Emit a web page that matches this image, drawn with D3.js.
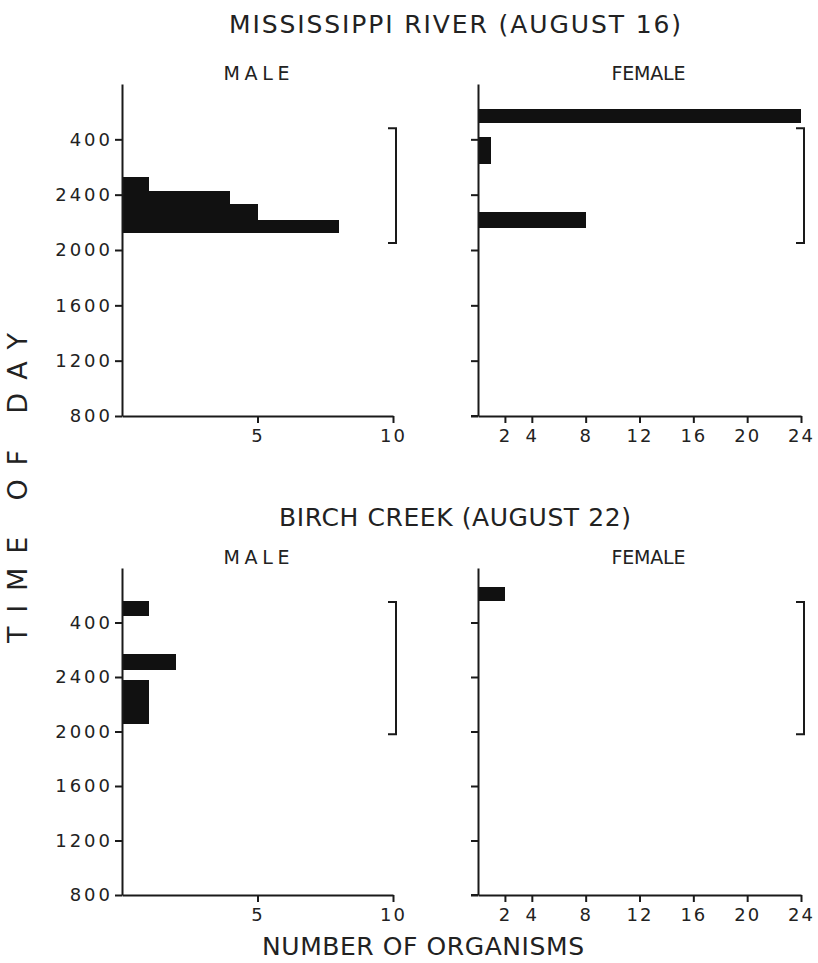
<!DOCTYPE html>
<html>
<head>
<meta charset="utf-8">
<script src="https://cdn.jsdelivr.net/npm/d3@7"></script>
<style>
  body { margin: 0; background: #fff; }
  svg text { font-family: "DejaVu Sans", sans-serif; fill: #222; }
</style>
</head>
<body>
<div id="chart"></div>
<script>
// time axis: hours after 0800 (0 = 800, 16 = 2400, 20 = 400 next morning)
const yTickHours = [0, 4, 8, 12, 16, 20];
const yTickLabels = ["800", "1200", "1600", "2000", "2400", "400"];
const maleTicks = [5, 10];
const femaleTicks = [2, 4, 8, 12, 16, 20, 24];

// Mississippi River (August 16)
const missMaleStart = [13.2, 14.2, 15.3, 16.3];
const missMaleEnd = [14.2, 15.3, 16.3, 17.3];
const missMaleCount = [8, 5, 4, 1];
const missFemaleStart = [21.2, 18.2, 13.6];
const missFemaleEnd = [22.2, 20.2, 14.75];
const missFemaleCount = [24, 1, 8];
const missNight = [12.5, 20.8];

// Birch Creek (August 22)
const birchMaleStart = [20.5, 16.5, 12.55];
const birchMaleEnd = [21.6, 17.7, 15.8];
const birchMaleCount = [1, 2, 1];
const birchFemaleStart = [21.6];
const birchFemaleEnd = [22.6];
const birchFemaleCount = [2];
const birchNight = [11.8, 21.5];

const svg = d3.select("#chart")
  .append("svg")
    .attr("width", 818)
    .attr("height", 963);

const ink = "#1a1a1a";

// small helper for the lettering
function label(x, y, txt, size, len, rotate) {
  const t = svg.append("text")
    .attr("x", x)
    .attr("y", y)
    .attr("text-anchor", "middle")
    .style("font-size", size + "px")
    .text(txt);
  if (len) t.attr("textLength", len).attr("lengthAdjust", "spacing");
  if (rotate) t.attr("transform", `rotate(${rotate},${x},${y})`);
  return t;
}

function panel(opts) {
  const y = d3.scaleLinear().domain([0, 24]).range(opts.yRange);
  const x = d3.scaleLinear().domain([0, opts.xMax]).range(opts.xRange);
  const g = svg.append("g");

  // bars
  g.selectAll("rect")
    .data(opts.count)
    .join("rect")
      .attr("x", x(0))
      .attr("y", (d, i) => y(opts.end[i]))
      .attr("width", d => x(d) - x(0))
      .attr("height", (d, i) => y(opts.start[i]) - y(opts.end[i]))
      .attr("fill", "#111")
      .attr("shape-rendering", "crispEdges");

  // y axis
  const ya = g.append("g")
    .attr("transform", `translate(${x(0)},0)`)
    .call(d3.axisLeft(y)
      .tickValues(yTickHours)
      .tickFormat((d, i) => opts.showY ? yTickLabels[i] : "")
      .tickSize(7)
      .tickSizeOuter(0)
      .tickPadding(2));
  ya.selectAll("text")
    .style("font-size", "18px")
    .style("letter-spacing", "3px");

  // x axis
  const xa = g.append("g")
    .attr("transform", `translate(0,${y(0)})`)
    .call(d3.axisBottom(x)
      .tickValues(opts.xTicks)
      .tickSize(7)
      .tickSizeOuter(0)
      .tickPadding(6));
  xa.selectAll("text")
    .style("font-size", "18px")
    .style("letter-spacing", "2px");
  if (!opts.showY) {
    g.append("line")
      .attr("x1", x(0) - 7).attr("x2", x(0))
      .attr("y1", y(0)).attr("y2", y(0))
      .attr("stroke", ink).attr("stroke-width", 2);
  }

  g.selectAll(".domain, .tick line")
    .attr("stroke", ink)
    .attr("stroke-width", 2);

  // night bracket on the right
  const bx = x(opts.xMax) + 3;
  g.append("path")
    .attr("d", `M${bx - 8},${y(opts.night[1])}H${bx}V${y(opts.night[0])}H${bx - 8}`)
    .attr("fill", "none")
    .attr("stroke", ink)
    .attr("stroke-width", 2);

  label((opts.xRange[0] + opts.xRange[1]) / 2 + opts.headShift, opts.yRange[1] - 4, opts.head, 19, opts.headLen);
}

const topY = [416, 84], botY = [895, 568];
const maleX = [122, 393], femaleX = [478, 801];

label(455, 33, "MISSISSIPPI RIVER (AUGUST 16)", 25, 452);
panel({ yRange: topY, xRange: maleX, xMax: 10, xTicks: maleTicks, showY: true,
  start: missMaleStart, end: missMaleEnd, count: missMaleCount, night: missNight,
  head: "MALE", headLen: 66, headShift: -1 });
panel({ yRange: topY, xRange: femaleX, xMax: 24, xTicks: femaleTicks, showY: false,
  start: missFemaleStart, end: missFemaleEnd, count: missFemaleCount, night: missNight,
  head: "FEMALE", headLen: 74, headShift: 9 });

label(455, 526, "BIRCH CREEK (AUGUST 22)", 25, 352);
panel({ yRange: botY, xRange: maleX, xMax: 10, xTicks: maleTicks, showY: true,
  start: birchMaleStart, end: birchMaleEnd, count: birchMaleCount, night: birchNight,
  head: "MALE", headLen: 66, headShift: -1 });
panel({ yRange: botY, xRange: femaleX, xMax: 24, xTicks: femaleTicks, showY: false,
  start: birchFemaleStart, end: birchFemaleEnd, count: birchFemaleCount, night: birchNight,
  head: "FEMALE", headLen: 74, headShift: 9 });

label(423, 955, "NUMBER OF ORGANISMS", 25, 322);
label(27, 488, "TIME OF DAY", 27, 310, -90);
</script>
</body>
</html>
